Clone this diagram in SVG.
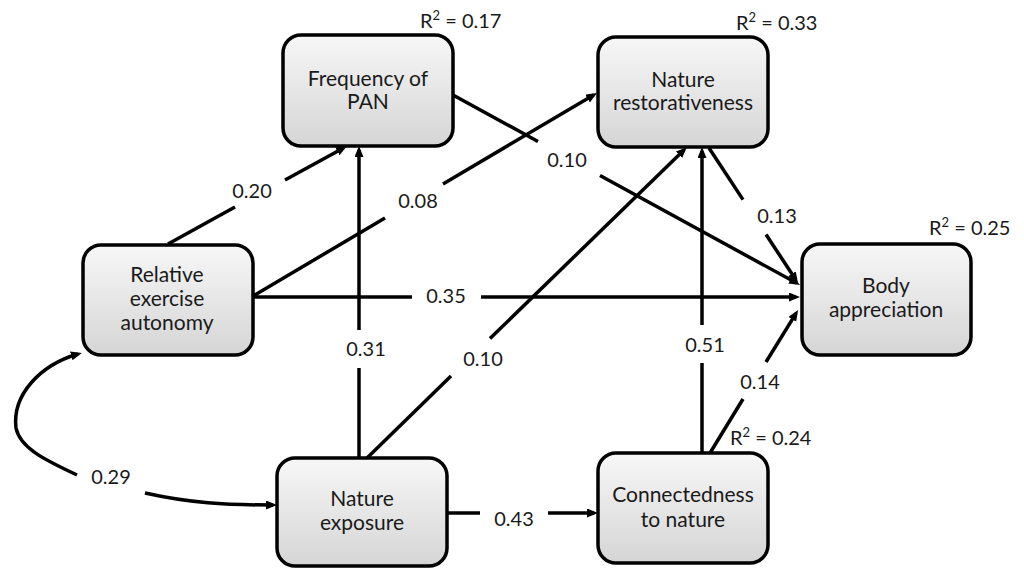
<svg xmlns="http://www.w3.org/2000/svg" width="1024" height="568" viewBox="0 0 1024 568">
<defs>
<linearGradient id="g" x1="0" y1="0" x2="0" y2="1">
<stop offset="0" stop-color="#f7f7f7"/>
<stop offset="1" stop-color="#d5d5d5"/>
</linearGradient>
<marker id="ah" markerUnits="userSpaceOnUse" markerWidth="12" markerHeight="10" refX="7" refY="4.5" orient="auto">
<path d="M0,0 L11,4.5 L0,9 z" fill="#000"/>
</marker>
<style>
.box{fill:url(#g);stroke:#000;stroke-width:3.5}
.t{font-family:Lato,"Open Sans",sans-serif;font-size:20px;fill:#1a1a1a;text-anchor:middle}
.n{font-size:21px}
.r{font-family:Lato,"Open Sans",sans-serif;font-size:20px;fill:#1a1a1a}
.sup{font-size:13px}
.c{stroke:#000;stroke-width:3.5;fill:none}
.a{stroke:#000;stroke-width:3.5;fill:none;marker-end:url(#ah)}
</style>
</defs>
<rect width="1024" height="568" fill="#fff"/>
<g id="connectors">
<line class="c" x1="168" y1="244" x2="235" y2="207"/>
<line class="a" x1="285" y1="180" x2="343.5" y2="148"/>
<line class="c" x1="253" y1="296" x2="385" y2="218"/>
<line class="a" x1="443" y1="184" x2="593.6" y2="95"/>
<line class="c" x1="359" y1="458" x2="359" y2="368"/>
<line class="a" x1="359" y1="330" x2="359" y2="150"/>
<line class="c" x1="367" y1="458" x2="451" y2="376"/>
<line class="a" x1="490" y1="338.5" x2="684" y2="150"/>
<line class="c" x1="453" y1="95" x2="538" y2="141.5"/>
<line class="a" x1="600" y1="175.5" x2="796.5" y2="283"/>
<line class="c" x1="709" y1="148" x2="743" y2="199.6"/>
<line class="a" x1="766" y1="234.5" x2="795.8" y2="279.7"/>
<line class="c" x1="253" y1="297" x2="412" y2="297"/>
<line class="a" x1="481" y1="297" x2="796" y2="297"/>
<line class="c" x1="702" y1="453" x2="702" y2="363"/>
<line class="a" x1="702" y1="325" x2="702" y2="151"/>
<line class="c" x1="710" y1="453" x2="743" y2="399"/>
<line class="a" x1="766" y1="362" x2="796" y2="313.4"/>
<line class="c" x1="447" y1="513" x2="480" y2="513"/>
<line class="a" x1="548" y1="513" x2="594" y2="513"/>
<path class="a" d="M77,475 C45,460 20,448 16,428 C12,395 40,365 78,354"/>
<path class="a" d="M145,493 C190,503 225,505 273,505"/>
<text class="t" x="252" y="198">0.20</text>
<text class="t" x="418" y="208">0.08</text>
<text class="t" x="567" y="167">0.10</text>
<text class="t" x="777" y="223">0.13</text>
<text class="t" x="446" y="303">0.35</text>
<text class="t" x="366" y="356">0.31</text>
<text class="t" x="483" y="366">0.10</text>
<text class="t" x="705" y="352">0.51</text>
<text class="t" x="760" y="389">0.14</text>
<text class="t" x="514" y="526">0.43</text>
<text class="t" x="111" y="484">0.29</text>
</g>
<g id="pan">
<rect class="box" x="283" y="35" width="170" height="111" rx="18"/>
<text class="t n" x="368" y="86">Frequency of</text>
<text class="t n" x="368" y="109">PAN</text>
<text class="r" x="420" y="28">R<tspan class="sup" dy="-8">2</tspan><tspan dy="8"> = 0.17</tspan></text>
</g>
<g id="restorativeness">
<rect class="box" x="598" y="37" width="170" height="110" rx="18"/>
<text class="t n" x="683" y="87">Nature</text>
<text class="t n" x="683" y="110">restorativeness</text>
<text class="r" x="736" y="30">R<tspan class="sup" dy="-8">2</tspan><tspan dy="8"> = 0.33</tspan></text>
</g>
<g id="autonomy">
<rect class="box" x="83" y="245" width="170" height="110" rx="18"/>
<text class="t n" x="167" y="282">Relative</text>
<text class="t n" x="167" y="306">exercise</text>
<text class="t n" x="167" y="330">autonomy</text>
</g>
<g id="body">
<rect class="box" x="802" y="244" width="169" height="111" rx="18"/>
<text class="t n" x="886" y="293">Body</text>
<text class="t n" x="886" y="317">appreciation</text>
<text class="r" x="929" y="235">R<tspan class="sup" dy="-8">2</tspan><tspan dy="8"> = 0.25</tspan></text>
</g>
<g id="exposure">
<rect class="box" x="277" y="458" width="170" height="108" rx="18"/>
<text class="t n" x="362" y="506">Nature</text>
<text class="t n" x="362" y="530">exposure</text>
</g>
<g id="connectedness">
<rect class="box" x="598" y="453" width="170" height="110" rx="18"/>
<text class="t n" x="683" y="502">Connectedness</text>
<text class="t n" x="683" y="527">to nature</text>
<text class="r" x="730" y="445">R<tspan class="sup" dy="-8">2</tspan><tspan dy="8"> = 0.24</tspan></text>
</g>
</svg>
